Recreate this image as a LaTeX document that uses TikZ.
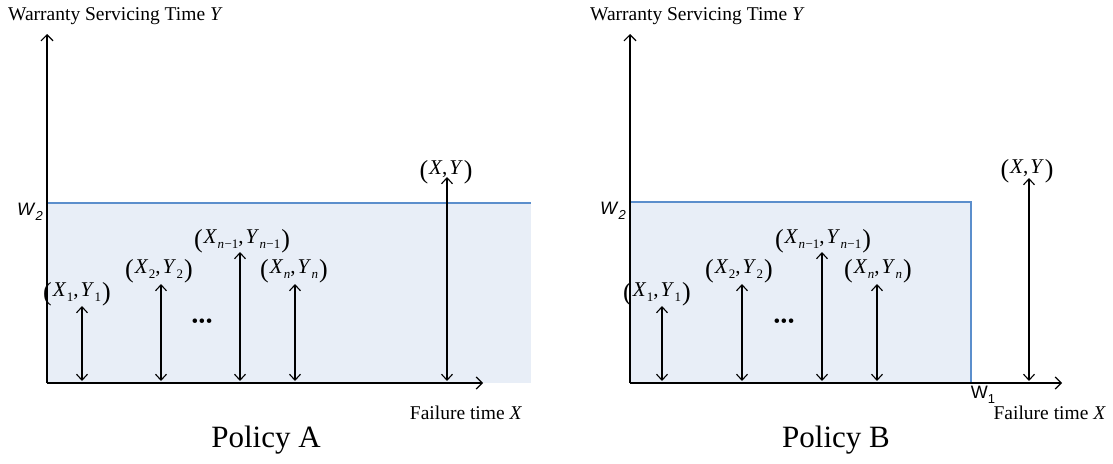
\documentclass[tikz,border=0pt]{standalone}
\usepackage{fontspec}
\setmainfont{Liberation Serif}
\setsansfont{Liberation Sans}
\usetikzlibrary{arrows.meta}
\definecolor{fillblue}{RGB}{232,238,247}
\definecolor{lineblue}{RGB}{91,142,204}
\newcommand{\sbs}[1]{\raisebox{-0.5ex}{\fontsize{13}{13}\selectfont #1}}
\newcommand{\lp}{{\fontsize{26}{26}\selectfont\raisebox{-0.3ex}{(}}}
\newcommand{\rp}{{\fontsize{26}{26}\selectfont\raisebox{-0.3ex}{)}}}
\newcommand{\pair}[2]{\lp\kern1pt\textit{X}\kern0.5pt\sbs{#1},\kern2pt\textit{Y}\kern0.5pt\sbs{#2}\kern1pt\rp}
\newcommand{\nm}{\textit{n}\kern0.3pt−1}
\newcommand{\threedots}{\textbullet\kern0.5pt\textbullet\kern0.5pt\textbullet}
\begin{document}
\begin{tikzpicture}[x=1pt,y=-1pt,
  axis/.style={line width=1.2pt,-{Straight Barb[length=6pt,width=12pt,line width=1.2pt]}},
  dbl/.style={line width=1.1pt,{Straight Barb[length=6pt,width=11pt,line width=1.1pt]}-{Straight Barb[length=6pt,width=11pt,line width=1.1pt]}},
  lab/.style={font=\fontsize{21}{21}\selectfont,inner sep=0pt},
  ttl/.style={font=\fontsize{19.5}{20}\selectfont,inner sep=0pt},
  pol/.style={font=\fontsize{31}{31}\selectfont,inner sep=0pt},
  wlab/.style={font=\sffamily\fontsize{18}{18}\selectfont,inner sep=0pt},
  blueline/.style={draw=lineblue,line width=1.2pt},
  dots/.style={font=\fontsize{19}{19}\selectfont,inner sep=0pt}]
\useasboundingbox (0,0) rectangle (1113,463);

% ---------- Policy A ----------
\fill[fillblue] (47,203) rectangle (531,383);
\coordinate (aw0) at (47,203);
\coordinate (aw1) at (531,203);
\draw[blueline] (aw0) -- (aw1);
\coordinate (ao) at (47,383);
\coordinate (ay) at (47,34);
\coordinate (ax) at (483,383);
\draw[axis] (ao) -- (ay);
\draw[axis] (ao) -- (ax);
\node[ttl,anchor=west] (atitle) at (8,16) {Warranty Servicing Time \textit{Y}};
\node[ttl] (axlab) at (466,413) {Failure time \textit{X}};
\node[wlab] (aW2) at (30,212) {\textit{W}\sbs{\textit{2}}};
\node[pol] (apol) at (266,440) {Policy A};

\coordinate (a1b) at (82,381); \coordinate (a1t) at (82,306);
\coordinate (a2b) at (161,381); \coordinate (a2t) at (161,284);
\coordinate (a3b) at (240,381); \coordinate (a3t) at (240,252);
\coordinate (a4b) at (295,381); \coordinate (a4t) at (295,284);
\coordinate (a5b) at (447,381); \coordinate (a5t) at (447,177);
\foreach \i in {1,...,5} {\draw[dbl] (a\i b) -- (a\i t);}
\node[lab] (a1l) at (77,294) {\pair{1}{1}};
\node[lab] (a2l) at (159,271) {\pair{2}{2}};
\node[lab] (a3l) at (242,241) {\pair{\nm}{\nm}};
\node[lab] (a4l) at (294,271) {\pair{\textit{n}}{\textit{n}}};
\node[lab] (a5l) at (446,172) {\lp\kern1pt\textit{X},\kern2pt\textit{Y}\kern1pt\rp};
\node[dots] (adots) at (202,323) {\threedots};

% ---------- Policy B ----------
\fill[fillblue] (630,202) rectangle (971,383);
\coordinate (bw0) at (630,202);
\coordinate (bw1) at (971,202);
\coordinate (bw2) at (971,383);
\draw[blueline] (bw0) -- (bw1) -- (bw2);
\coordinate (bo) at (630,383);
\coordinate (by) at (630,34);
\coordinate (bx) at (1062,383);
\draw[axis] (bo) -- (by);
\draw[axis] (bo) -- (bx);
\node[ttl,anchor=west] (btitle) at (590,16) {Warranty Servicing Time \textit{Y}};
\node[ttl,anchor=east] (bxlab) at (1106,413) {Failure time \textit{X}};
\node[wlab] (bW2) at (613,211) {\textit{W}\sbs{\textit{2}}};
\node[wlab] (bW1) at (983,395) {W\sbs{1}};
\node[pol] (bpol) at (836,440) {Policy B};

\coordinate (b1b) at (662,381); \coordinate (b1t) at (662,306);
\coordinate (b2b) at (742,381); \coordinate (b2t) at (742,284);
\coordinate (b3b) at (822,381); \coordinate (b3t) at (822,252);
\coordinate (b4b) at (877,381); \coordinate (b4t) at (877,284);
\coordinate (b5b) at (1029,381); \coordinate (b5t) at (1029,178);
\foreach \i in {1,...,5} {\draw[dbl] (b\i b) -- (b\i t);}
\node[lab] (b1l) at (657,294) {\pair{1}{1}};
\node[lab] (b2l) at (739,271) {\pair{2}{2}};
\node[lab] (b3l) at (823,241) {\pair{\nm}{\nm}};
\node[lab] (b4l) at (878,271) {\pair{\textit{n}}{\textit{n}}};
\node[lab] (b5l) at (1027,171) {\lp\kern1pt\textit{X},\kern2pt\textit{Y}\kern1pt\rp};
\node[dots] (bdots) at (784,323) {\threedots};
\end{tikzpicture}
\end{document}
